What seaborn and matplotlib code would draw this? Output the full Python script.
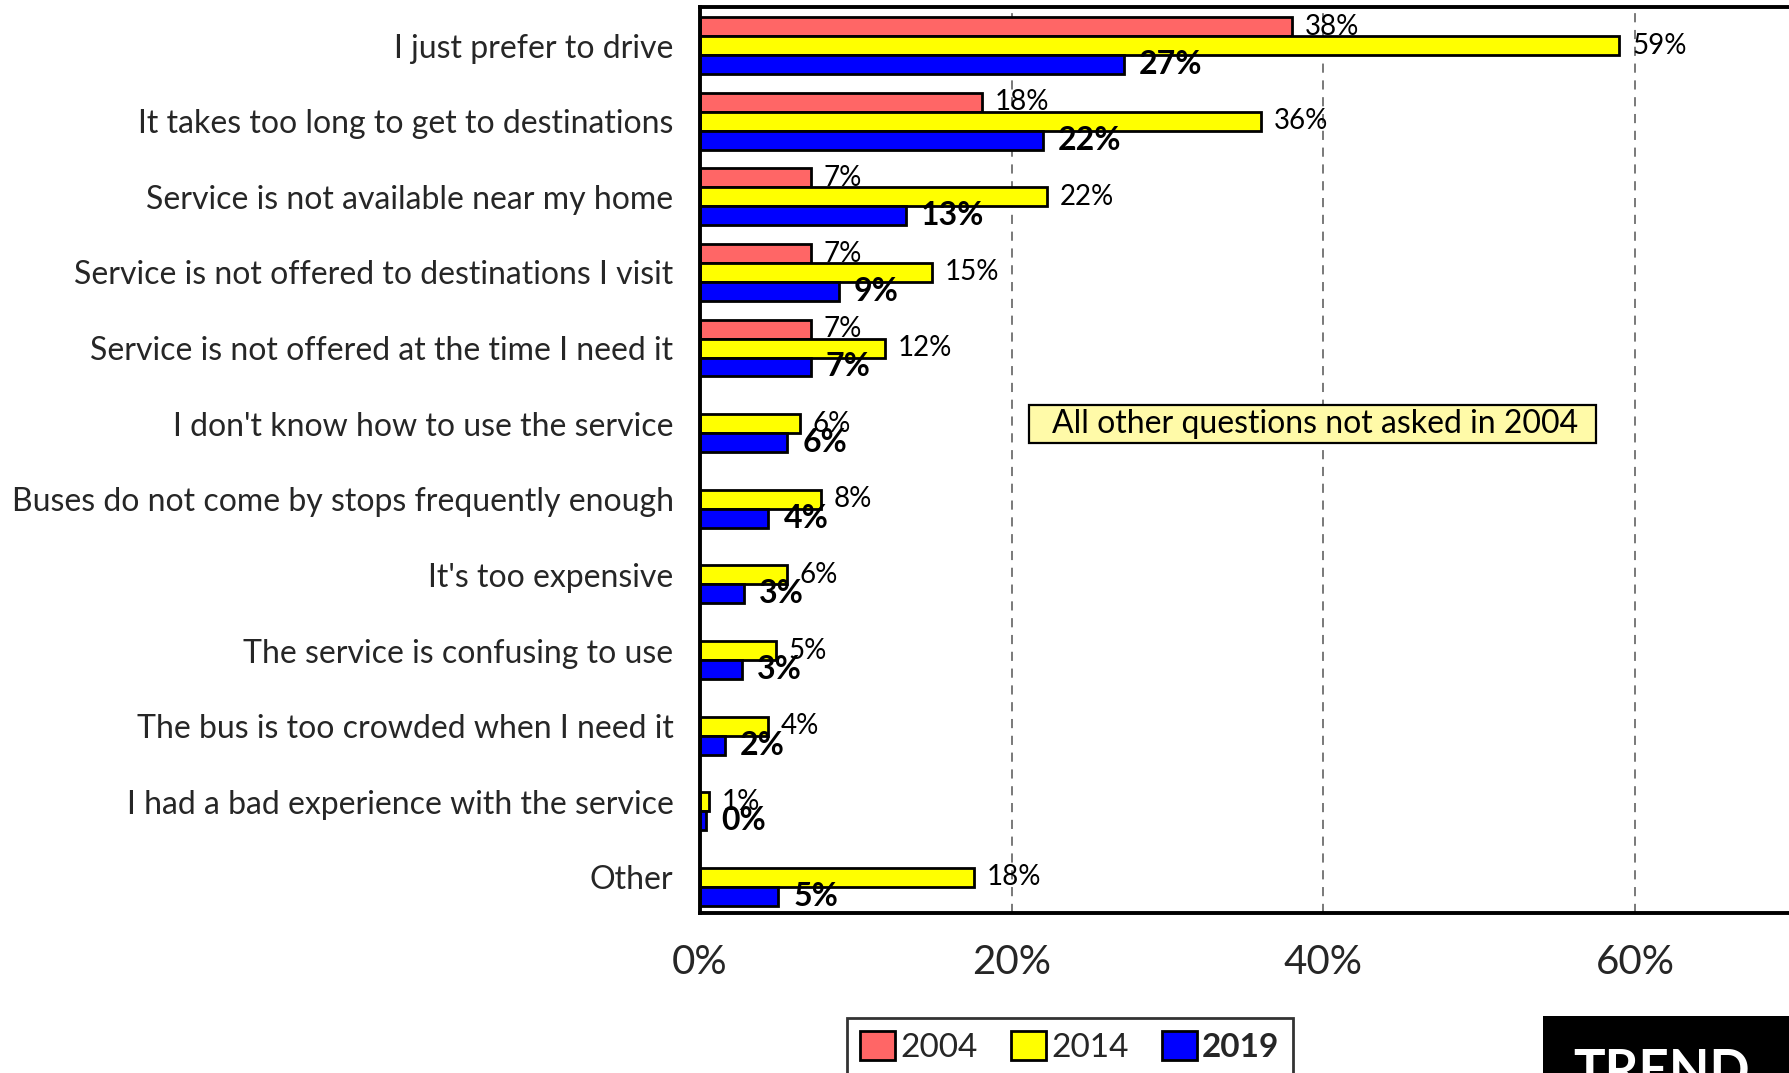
import numpy as np
import pandas as pd
import matplotlib
matplotlib.use("Agg")
import matplotlib.pyplot as plt
from matplotlib.patches import Rectangle, Patch
import seaborn as sns

# Reasons for not using transit, one row per survey answer
reasons = [
    "I just prefer to drive",
    "It takes too long to get to destinations",
    "Service is not available near my home",
    "Service is not offered to destinations I visit",
    "Service is not offered at the time I need it",
    "I don't know how to use the service",
    "Buses do not come by stops frequently enough",
    "It's too expensive",
    "The service is confusing to use",
    "The bus is too crowded when I need it",
    "I had a bad experience with the service",
    "Other",
]
years = ["2004", "2014", "2019"]

# Percent of respondents (2004 survey asked only the first five questions)
share_2004 = [38.0, 18.1, 7.1, 7.1, 7.1, np.nan, np.nan, np.nan, np.nan, np.nan, np.nan, np.nan]
share_2014 = [59.0, 36.0, 22.3, 14.9, 11.9, 6.4, 7.8, 5.6, 4.9, 4.4, 0.6, 17.6]
share_2019 = [27.2, 22.0, 13.2, 8.9, 7.1, 5.6, 4.4, 2.8, 2.7, 1.6, 0.4, 5.0]

year_colors = {"2004": "#FF6666", "2014": "#FFFF00", "2019": "#0000FF"}

rows = []
for year, values in zip(years, [share_2004, share_2014, share_2019]):
    for reason, v in zip(reasons, values):
        if not np.isnan(v):
            rows.append({"reason": reason, "year": year, "share": v})
df = pd.DataFrame(rows)

sns.set_style("white")
plt.rcParams["font.family"] = ["Lato", "DejaVu Sans"]

fig = plt.figure(figsize=(17.9, 10.73), dpi=100)
ax = fig.add_axes([0.391, 0.1491, 0.6966, 0.8444])

sns.barplot(
    data=df, y="reason", x="share", hue="year",
    order=reasons, hue_order=years, palette=year_colors, saturation=1,
    orient="h", width=0.75, dodge=True, errorbar=None,
    edgecolor="black", linewidth=2, legend=False, ax=ax,
)

# Value labels at the end of each bar
for year, container in zip(years, ax.containers):
    labels = [f"{p.get_width():.0f}%" for p in container]
    if year == "2019":
        ax.bar_label(container, labels=labels, padding=11, fontsize=23,
                     fontweight="bold", color="black")
    else:
        ax.bar_label(container, labels=labels, padding=9, fontsize=20,
                     color="black")

ax.set_xlim(0, 80)
ax.set_ylim(11.47, -0.51)
ax.set_xticks([0, 20, 40, 60])
ax.set_xticklabels([f"{t}%" for t in [0, 20, 40, 60]])
ax.tick_params(axis="x", length=0, pad=22, labelsize=29)
ax.tick_params(axis="y", length=0, pad=19, labelsize=23)
ax.set_xlabel("")
ax.set_ylabel("")

ax.set_axisbelow(True)
ax.xaxis.grid(True, linestyle=(0, (6, 5)), color="#555555", linewidth=1.1)
ax.yaxis.grid(False)
for side in ["left", "top", "bottom", "right"]:
    ax.spines[side].set_visible(True)
    ax.spines[side].set_color("black")
    ax.spines[side].set_linewidth(2.8)

# Note box for the questions added after 2004
ax.add_patch(Rectangle((21.1, 5 - 0.25), 36.4, 0.5, facecolor="#FFFAA8",
                       edgecolor="black", linewidth=1.6, zorder=4))
ax.text(39.5, 5, "All other questions not asked in 2004", ha="center", va="center",
        fontsize=23, color="black", zorder=5)

# Legend below the plot
handles = [Patch(facecolor=year_colors[y], edgecolor="black", linewidth=2) for y in years]
leg = fig.legend(handles, years, loc="upper left",
                 bbox_to_anchor=(847 / 1790, 1 - 1018 / 1073), ncol=3,
                 frameon=True, fancybox=False, fontsize=24,
                 handlelength=1.05, handleheight=0.95, handletextpad=0.15,
                 columnspacing=1.0, borderpad=0.4, borderaxespad=0)
leg.get_frame().set_edgecolor("black")
leg.get_frame().set_linewidth(2)
leg.get_texts()[2].set_fontweight("bold")

# Section tag in the lower right corner
fig.add_artist(Rectangle((1543 / 1790, 0), 1 - 1543 / 1790, (1073 - 1016) / 1073,
                         transform=fig.transFigure, facecolor="black",
                         edgecolor="none"))
fig.text(1662 / 1790, (1073 - 1048) / 1073, "TREND", ha="center", va="top",
         color="white", fontsize=38, fontweight="bold")

fig.savefig("out.png", dpi=100)
